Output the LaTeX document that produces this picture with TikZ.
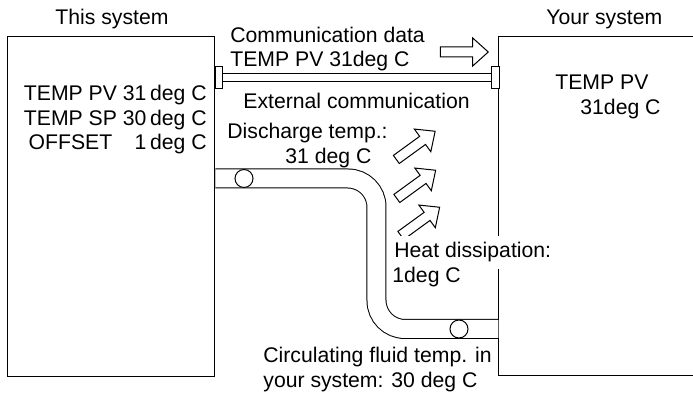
\documentclass[tikz,border=0pt]{standalone}
\usepackage{fontspec}
\setmainfont{Liberation Sans}
\usetikzlibrary{shapes.arrows, positioning}

\begin{document}
\begin{tikzpicture}[
      x=0.5pt, y=-0.5pt,
      sysbox/.style={rectangle, draw, line width=0.5pt, inner sep=0pt},
      plug/.style={rectangle, draw, fill=white, line width=0.5pt, inner sep=0pt,
                   minimum width=3.75pt, minimum height=11pt},
      sensor/.style={circle, draw, fill=white, line width=0.5pt, inner sep=0pt,
                     minimum size=9pt},
      blockarrow/.style={single arrow, draw, fill=white, line width=0.5pt, inner sep=2.25pt,
                         minimum height=24pt, single arrow head extend=4.5pt,
                         single arrow tip angle=84},
      lbl/.style={font=\fontsize{10.6}{12.25}\selectfont, inner sep=0pt, anchor=base west},
      commline/.style={draw, line width=0.5pt, double, double distance=3.5pt},
      pipe/.style={draw, line width=0.5pt, double, double distance=9pt,
                   rounded corners=14.25pt}
    ]
      \clip (0,0) rectangle (693,394);

      % Systems
      \node[sysbox, minimum width=103.5pt, minimum height=170pt] (this) at (111.5,207) {};
      \node[sysbox, minimum width=130.5pt, minimum height=169.5pt] (yours) at (629.5,206.5) {};
      \node[lbl] (thistitle) at (55,25) {This system};
      \node[lbl] (yourstitle) at (546,25) {Your system};

      % Values
      \node[lbl, anchor=base east] (thisvals) at (207,101)
        {\begin{tabular}[t]{@{}c@{\hspace{0.278em}}r@{\,}l@{}}
          TEMP PV & 31 & deg C\\
          TEMP SP & 30 & deg C\\
          OFFSET & 1 & deg C
        \end{tabular}};
      \node[lbl] (yourspv) at (555,90) {TEMP PV};
      \node[lbl] (yoursval) at (580,115) {31deg C};

      % External communication
      \node[plug] (plugL) at (219,78) {};
      \node[plug] (plugR) at (495.5,78) {};
      \draw[commline] (plugL) -- (plugR);
      \node[lbl] (commdata) at (230,43) {Communication data};
      \node[lbl] (commpv) at (230,67) {TEMP PV 31deg C};
      \node[lbl] (commext) at (243,109) {External communication};
      \node[blockarrow] (commarrow) at (461.5,52) {};

      % Circulating fluid
      \draw[pipe] (this.east |- 0,178.5) -- (376.5,178.5) -- (376.5,329) -- (yours.west |- 0,329);
      \node[sensor] (sensdis) at (244,178.5) {};
      \node[sensor] (sensret) at (459,329) {};
      \node[lbl] (distemp) at (227,139) {Discharge temp.:};
      \node[lbl] (disval) at (285,164) {31 deg C};

      % Heat dissipation
      \node[blockarrow, rotate=36] (heat1) at (413.5,147) {};
      \node[blockarrow, rotate=36] (heat2) at (414,186) {};
      \node[blockarrow, rotate=36] (heat3) at (418,223) {};
      \node[lbl, fill=white, inner ysep=3.5pt, inner xsep=1pt] (heattext) at (392,258) {Heat dissipation:};
      \node[lbl] (heatval) at (392,283) {1deg C};

      \node[lbl] (rettext) at (263,363) {Circulating fluid temp. in};
      \node[lbl] (retval) at (263,388) {your system: 30 deg C};
    \end{tikzpicture}
\end{document}
